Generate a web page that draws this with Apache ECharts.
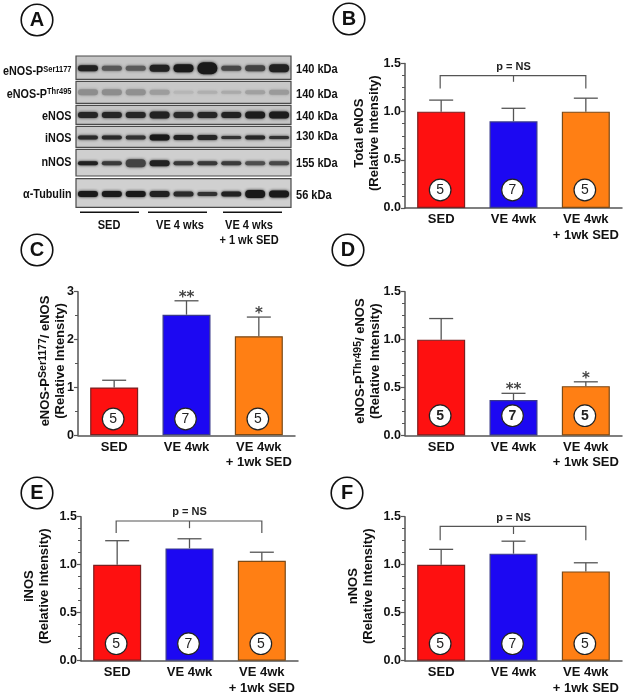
<!DOCTYPE html>
<html>
<head>
<meta charset="utf-8">
<style>html,body{margin:0;padding:0;background:#fff}#c{width:625px;height:697px}</style>
<script src="https://cdn.jsdelivr.net/npm/echarts@6/dist/echarts.min.js"></script>
</head>
<body>
<div id="c"></div>
<script>
// ---------- values ----------
const categories = ['SED', 'VE 4wk', 'VE 4wk\n+ 1wk SED'];
const nLabels = ['5', '7', '5'];

const totalEnosValues = [1.0, 0.9, 1.0];
const totalEnosErrTops = [1.12, 1.035, 1.14];
const ser1177Values = [1.0, 2.52, 2.07];
const ser1177ErrTops = [1.15, 2.81, 2.47];
const thr495Values = [1.0, 0.37, 0.515];
const thr495ErrTops = [1.22, 0.44, 0.56];
const inosValues = [1.0, 1.17, 1.04];
const inosErrTops = [1.25, 1.27, 1.13];
const nnosValues = [1.0, 1.115, 0.93];
const nnosErrTops = [1.16, 1.245, 1.02];

const ser1177Stars = ['', '**', '*'];
const thr495Stars = ['', '**', '*'];

const blotLanes = ['1', '2', '3', '4', '5', '6', '7', '8', '9'];
const blotLabels = ['eNOS-P{s|Ser1177}', 'eNOS-P{s|Thr495}', 'eNOS', 'iNOS', 'nNOS', 'α-Tubulin'];
const blotSizes = ['140 kDa', '140 kDa', '140 kDa', '130 kDa', '155 kDa', '56 kDa'];
const ser1177Band = [.95, .62, .6, .95, 1, 1, .72, .75, .95];
const thr495Band = [.3, .3, .28, .2, .05, .09, .12, .18, .22];
const enosBand = [.92, .92, .92, .95, .9, .92, .95, .98, .98];
const inosBand = [.9, .9, .85, 1, .95, .92, .85, .92, .85];
const nnosBand = [.95, .8, .75, .95, .82, .82, .8, .68, .72];
const tubulinBand = [1, 1, 1, .95, .9, .85, .95, 1, 1];
const ser1177Thick = [6, 5, 5, 7, 8, 12, 5, 6, 8];
const thr495Thick = [6, 6, 6, 5, 3, 3, 3, 4, 5];
const enosThick = [6, 6, 6, 7, 6, 6, 6, 7, 7];
const inosThick = [4, 4, 4, 6, 5, 5, 3, 4, 3];
const nnosThick = [4, 4, 8, 6, 4, 4, 4, 4, 4];
const tubulinThick = [6, 6, 6, 6, 5, 4, 5, 8, 7];

// ---------- styling and layout ----------
const FONT = '"Liberation Sans", Arial, sans-serif';
const AXIS = '#555';
const barColors = ['#fe1010', '#1c08f2', '#ff7f14'];
const barEdges = ['#7a2020', '#3a3a8a', '#7a4a18'];

const panels = [
  { left: 405, top: 63.5, h: 144.5, max: 1.5, step: .5, minor: 4, dec: 1, vals: totalEnosValues, errs: totalEnosErrTops, gap: 23, pill: 18,
    name: 'Total eNOS\n(Relative Intensity)', bracket: { y: 1.375, end: 1.24, mid: 1.31, text: 1.46 } },
  { left: 78, top: 291.7, h: 143.6, max: 3, step: 1, minor: 2, dec: 0, vals: ser1177Values, errs: ser1177ErrTops, gap: 10, pill: 16.3, stars: ser1177Stars,
    name: 'eNOS-P{sup|Ser1177}/ eNOS\n(Relative Intensity)' },
  { left: 405, top: 291.7, h: 143.8, max: 1.5, step: .5, minor: 4, dec: 1, vals: thr495Values, errs: thr495ErrTops, gap: 22, pill: 19.8, stars: thr495Stars, boldPill: true,
    name: 'eNOS-P{sup|Thr495}/ eNOS\n(Relative Intensity)' },
  { left: 81, top: 516.7, h: 144, max: 1.5, step: .5, minor: 4, dec: 1, vals: inosValues, errs: inosErrTops, gap: 29, pill: 17,
    name: 'iNOS\n(Relative Intensity)', bracket: { y: 1.455, end: 1.33, mid: 1.38, text: 1.55 } },
  { left: 405, top: 516.7, h: 144, max: 1.5, step: .5, minor: 4, dec: 1, vals: nnosValues, errs: nnosErrTops, gap: 29, pill: 17,
    name: 'nNOS\n(Relative Intensity)', bracket: { y: 1.40, end: 1.255, mid: 1.32, text: 1.49 } }
];

const blotRows = [
  { top: 0, bottom: 23.3, band: 12.3, vals: ser1177Band, thick: ser1177Thick, bg: '#c6c6c6', label: 15.7, size: 13.3 },
  { top: 25.3, bottom: 47.3, band: 36.3, vals: thr495Band, thick: thr495Thick, bg: '#c8c8c8', label: 38, size: 38 },
  { top: 49.3, bottom: 68.3, band: 59, vals: enosBand, thick: enosThick, bg: '#c4c4c4', label: 60.7, size: 60.7 },
  { top: 70.3, bottom: 91.3, band: 81.6, vals: inosBand, thick: inosThick, bg: '#cacaca', label: 82.7, size: 80 },
  { top: 93.3, bottom: 120, band: 107.3, vals: nnosBand, thick: nnosThick, bg: '#cfcfcf', label: 106.7, size: 107 },
  { top: 122.7, bottom: 151.3, band: 138, vals: tubulinBand, thick: tubulinThick, bg: '#d0d0d0', label: 138.7, size: 139 }
];

const grid = [], xAxis = [], yAxis = [], series = [];

panels.forEach((p, i) => {
  grid.push({ left: p.left, top: p.top, width: 217, height: p.h });
  xAxis.push({
    type: 'category', gridIndex: i, data: categories,
    axisLine: { lineStyle: { color: AXIS, width: 1.5 } },
    axisTick: { alignWithLabel: true, length: 3, lineStyle: { color: AXIS, width: 1.2 } },
    axisLabel: { interval: 0, margin: 4, color: '#111', fontFamily: FONT, fontWeight: 'bold', fontSize: 13, lineHeight: 15.5, verticalAlign: 'top' }
  });
  yAxis.push({
    type: 'value', gridIndex: i, min: 0, max: p.max, interval: p.step,
    name: p.name, nameLocation: 'middle', nameRotate: 90, nameGap: p.gap, nameMoveOverlap: false,
    nameTextStyle: { color: '#111', fontFamily: FONT, fontWeight: 'bold', fontSize: 13, lineHeight: 15, padding: [0, 0, 0, 5],
      rich: { sup: { fontFamily: FONT, fontWeight: 'bold', fontSize: 10.5, lineHeight: 15, verticalAlign: 'top', padding: [0, 0, 5, 0], color: '#111' } } },
    splitLine: { show: false },
    axisLine: { show: true, lineStyle: { color: AXIS, width: 1.5 } },
    axisTick: { show: true, length: 4, lineStyle: { color: AXIS, width: 1.2 } },
    minorTick: { show: true, splitNumber: p.minor, length: 3, lineStyle: { color: AXIS, width: 1 } },
    axisLabel: { margin: 4, color: '#111', fontFamily: FONT, fontWeight: 'bold', fontSize: 12.5, formatter: v => v.toFixed(p.dec) }
  });

  series.push({
    type: 'bar', xAxisIndex: i, yAxisIndex: i, barWidth: 48, z: 2,
    data: p.vals.map((v, k) => ({ value: v, itemStyle: { color: barColors[k], borderColor: barEdges[k], borderWidth: 1.2 } }))
  });

  series.push({
    type: 'custom', xAxisIndex: i, yAxisIndex: i, z: 1, clip: false,
    data: p.errs.map((e, k) => [k, e, p.vals[k]]),
    encode: { x: 0, y: 1 },
    renderItem(params, api) {
      const k = api.value(0);
      const t = api.coord([k, api.value(1)]);
      const b = api.coord([k, api.value(2)]);
      const ls = { stroke: AXIS, lineWidth: 1.3, fill: null };
      const children = [
        { type: 'line', shape: { x1: t[0], y1: t[1], x2: b[0], y2: b[1] }, style: ls },
        { type: 'line', shape: { x1: t[0] - 12, y1: t[1], x2: t[0] + 12, y2: t[1] }, style: ls }
      ];
      const star = p.stars && p.stars[k];
      if (star) children.push({ type: 'text', style: { x: t[0], y: t[1] - 3, text: star, fill: '#444',
        font: 'bold 15px "DejaVu Sans", sans-serif', align: 'center', verticalAlign: 'middle' } });
      return { type: 'group', children };
    }
  });

  series.push({
    type: 'custom', xAxisIndex: i, yAxisIndex: i, z: 5, clip: false,
    data: nLabels.map((n, k) => [k, 0, n]),
    encode: { x: 0, y: 1 },
    renderItem(params, api) {
      const k = api.value(0);
      const c = api.coord([k, 0]);
      const y = c[1] - p.pill;
      return { type: 'group', children: [
        { type: 'circle', shape: { cx: c[0] - 1, cy: y, r: 10.8 }, style: { fill: '#fff', stroke: '#222', lineWidth: 1.2 } },
        { type: 'text', style: { x: c[0] - 1, y: y + .5, text: nLabels[k], fill: '#222',
          font: (p.boldPill ? 'bold ' : '') + '14px ' + FONT, align: 'center', verticalAlign: 'middle' } }
      ] };
    }
  });

  if (p.bracket) {
    const br = p.bracket;
    series.push({
      type: 'custom', xAxisIndex: i, yAxisIndex: i, z: 3, clip: false,
      data: [[1, br.y]],
      encode: { x: 0, y: 1 },
      renderItem(params, api) {
        const a = api.coord([0, br.y]), m = api.coord([1, br.y]), z = api.coord([2, br.y]);
        const endY = api.coord([0, br.end])[1], midY = api.coord([0, br.mid])[1], txtY = api.coord([0, br.text])[1];
        const ls = { stroke: AXIS, lineWidth: 1.2, fill: null };
        return { type: 'group', children: [
          { type: 'polyline', shape: { points: [[a[0] - 1, endY], [a[0] - 1, a[1]], [z[0], a[1]], [z[0], endY]] }, style: ls },
          { type: 'line', shape: { x1: m[0], y1: a[1], x2: m[0], y2: midY }, style: ls },
          { type: 'text', style: { x: m[0], y: txtY, text: 'p = NS', fill: '#222', font: 'bold 11px ' + FONT, align: 'center', verticalAlign: 'middle' } }
        ] };
      }
    });
  }
});

// ---------- western blot panel ----------
const BI = panels.length;
grid.push({ left: 76, top: 56, width: 215, height: 151.3 });
xAxis.push({ type: 'category', gridIndex: BI, data: blotLanes, show: false });
yAxis.push({ type: 'value', gridIndex: BI, min: 0, max: 151.3, inverse: true, show: false });

series.push({
  type: 'custom', xAxisIndex: BI, yAxisIndex: BI, z: 1, clip: false,
  data: blotRows.map((r, k) => [0, r.top, k]),
  encode: { x: 0, y: 1 },
  renderItem(params, api) {
    const r = blotRows[api.value(2)];
    const cs = params.coordSys;
    const t = api.coord([0, r.top])[1], b = api.coord([0, r.bottom])[1];
    return { type: 'rect', shape: { x: cs.x, y: t, width: cs.width, height: b - t },
      style: { fill: r.bg, stroke: '#4a4a4a', lineWidth: 1.2 } };
  }
});
const bandData = [];
blotRows.forEach((r, k) => r.vals.forEach((v, l) => bandData.push([l, r.band, v, r.thick[l]])));
series.push({
  type: 'custom', xAxisIndex: BI, yAxisIndex: BI, z: 2, clip: false,
  data: bandData,
  encode: { x: 0, y: 1 },
  renderItem(params, api) {
    const c = api.coord([api.value(0), api.value(1)]);
    const g = Math.round(190 - 165 * api.value(2));
    const col = 'rgb(' + g + ',' + g + ',' + g + ')';
    const th = api.value(3);
    return { type: 'rect', shape: { x: c[0] - 10, y: c[1] - th / 2, width: 20, height: th, r: th / 2 },
      style: { fill: col, shadowBlur: 3, shadowColor: col } };
  }
});

// ---------- free annotations ----------
const graphic = [];
[['A', 37, 20], ['B', 349, 19], ['C', 37, 250], ['D', 348, 250], ['E', 37, 493], ['F', 347, 493]].forEach(([t, x, y]) => {
  graphic.push({ type: 'circle', shape: { cx: x, cy: y, r: 15.8 }, style: { fill: '#fff', stroke: '#111', lineWidth: 1.6 }, z: 10 });
  graphic.push({ type: 'text', x, y: y + .5, style: { text: t, fill: '#111', font: 'bold 20px ' + FONT, align: 'center', verticalAlign: 'middle' }, z: 11 });
});
blotRows.forEach((r, k) => {
  graphic.push({ type: 'text', x: 71.5, y: 56 + r.label, scaleX: .83, style: { text: blotLabels[k], fill: '#111', font: 'bold 13px ' + FONT, align: 'right', verticalAlign: 'middle',
    rich: { s: { font: 'bold 9px ' + FONT, fill: '#111', verticalAlign: 'bottom', padding: [0, 0, 4, 0] } } }, z: 10 });
  graphic.push({ type: 'text', x: 296, y: 56 + r.size, scaleX: .83, style: { text: blotSizes[k], fill: '#111', font: 'bold 13.3px ' + FONT, align: 'left', verticalAlign: 'middle' }, z: 10 });
});
[[80, 139], [148, 207], [223, 282]].forEach(([a, b]) => {
  graphic.push({ type: 'line', shape: { x1: a, y1: 212.3, x2: b, y2: 212.3 }, style: { stroke: '#111', lineWidth: 1.5 }, z: 10 });
});
[['SED', 109, 225], ['VE 4 wks', 180, 225], ['VE 4 wks', 249, 225], ['+ 1 wk SED', 249, 240]].forEach(([t, x, y]) => {
  graphic.push({ type: 'text', x, y, scaleX: .83, style: { text: t, fill: '#111', font: 'bold 13.3px ' + FONT, align: 'center', verticalAlign: 'middle' }, z: 10 });
});

const chart = echarts.init(document.getElementById('c'), null, { renderer: 'canvas', width: 625, height: 697 });
chart.setOption({ animation: false, backgroundColor: '#fff', tooltip: { show: false }, grid, xAxis, yAxis, series, graphic });
</script>
</body>
</html>
